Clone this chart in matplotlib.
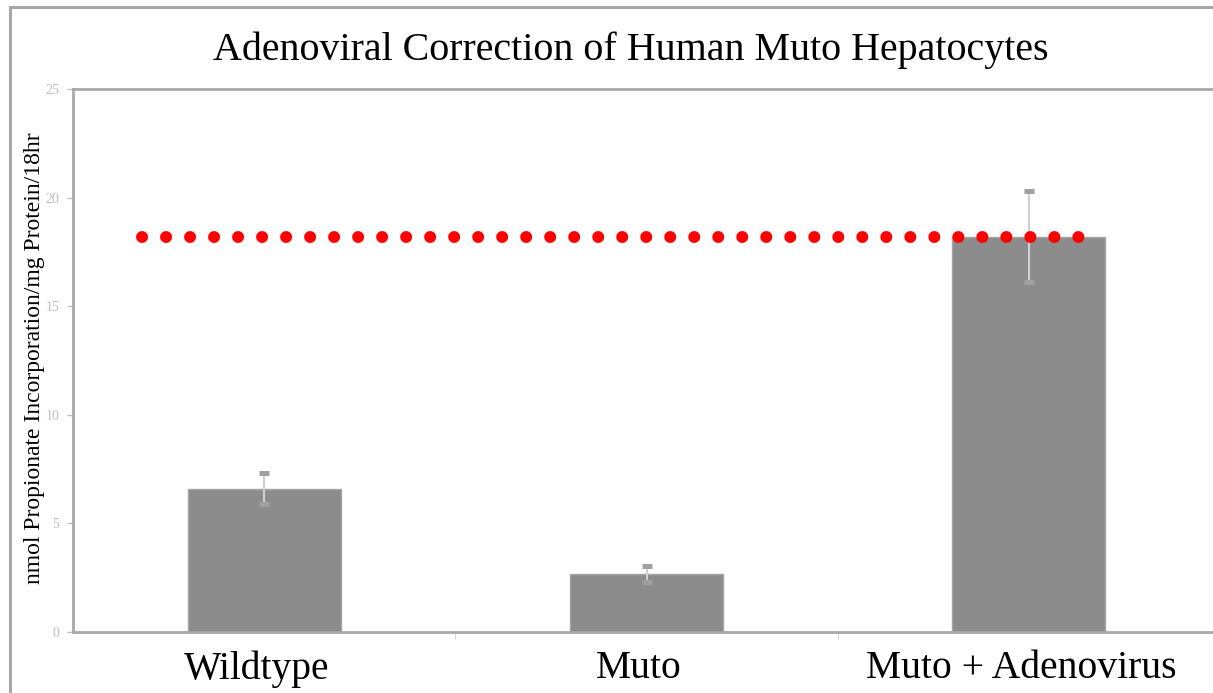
import numpy as np
import matplotlib
matplotlib.use('Agg')
import matplotlib.pyplot as plt
import matplotlib.transforms as mtransforms
from matplotlib.patches import Rectangle

plt.rcParams['font.family'] = ['Liberation Serif', 'DejaVu Serif']

groups = ['Wildtype', 'Muto', 'Muto + Adenovirus']
means = [6.6, 2.66, 18.2]
errors = [0.72, 0.38, 2.1]
yticks = [0, 5, 10, 15, 20, 25]
ref_level = 18.2
ref_span = [-0.32, 2.13]

fig = plt.figure(figsize=(12.13, 6.93), dpi=100)
ax = fig.add_axes([0.0602, 0.088, 0.9456, 0.7836])

x = np.arange(len(groups))
ax.bar(x, means, width=0.4, color='#8c8c8c', edgecolor='#a6a6a6', linewidth=1, zorder=2)
eb = ax.errorbar(x, means, yerr=errors, fmt='none', ecolor='#d0d0d0', elinewidth=1.5,
                 capsize=3.3, capthick=3.6, zorder=3)
for cap in eb[1]:
    cap.set_markeredgecolor('#a0a0a0')
    cap.set_markerfacecolor('#a0a0a0')

# red dotted reference line at the corrected level
ax.plot(ref_span, [ref_level, ref_level], color='#ff0000', linewidth=8.6,
        linestyle=(0, (0.01, 2.0)), dash_capstyle='round', zorder=5)

ax.set_xlim(-0.5, 2.5)
ax.set_ylim(0, 25)
ax.set_yticks(yticks)
ax.set_yticklabels([str(v) for v in yticks], fontsize=10, color='#bdbdbd')
ax.tick_params(axis='y', length=4, width=1, color='#bdbdbd', pad=6)
ax.set_xticks([0.5, 1.5], minor=True)
ax.set_xticks(x)
ax.set_xticklabels(groups, fontsize=28.5)
ax.tick_params(axis='x', which='major', length=0, pad=13)
ax.tick_params(axis='x', which='minor', length=5, color='#c8c8c8', direction='out')
shift = mtransforms.ScaledTranslation(-8 / 100, 0, fig.dpi_scale_trans)
for lab in ax.get_xticklabels():
    lab.set_transform(lab.get_transform() + shift)

for s in ['left', 'top', 'bottom', 'right']:
    ax.spines[s].set_color('#a8a8a8')
    ax.spines[s].set_linewidth(2)

ax.set_ylabel('nmol Propionate Incorporation/mg Protein/18hr', fontsize=17, va='center')
ax.yaxis.set_label_coords(-0.034, 0.504)
fig.text(0.52, 0.928, 'Adenoviral Correction of Human Muto Hepatocytes', fontsize=28.8,
         ha='center', va='center')

fig.patches.append(Rectangle((0.0082, -0.2), 1.2, 1.1899, transform=fig.transFigure,
                             fill=False, edgecolor='#a8a8a8', linewidth=2.2))

fig.savefig('out.png', dpi=100)
